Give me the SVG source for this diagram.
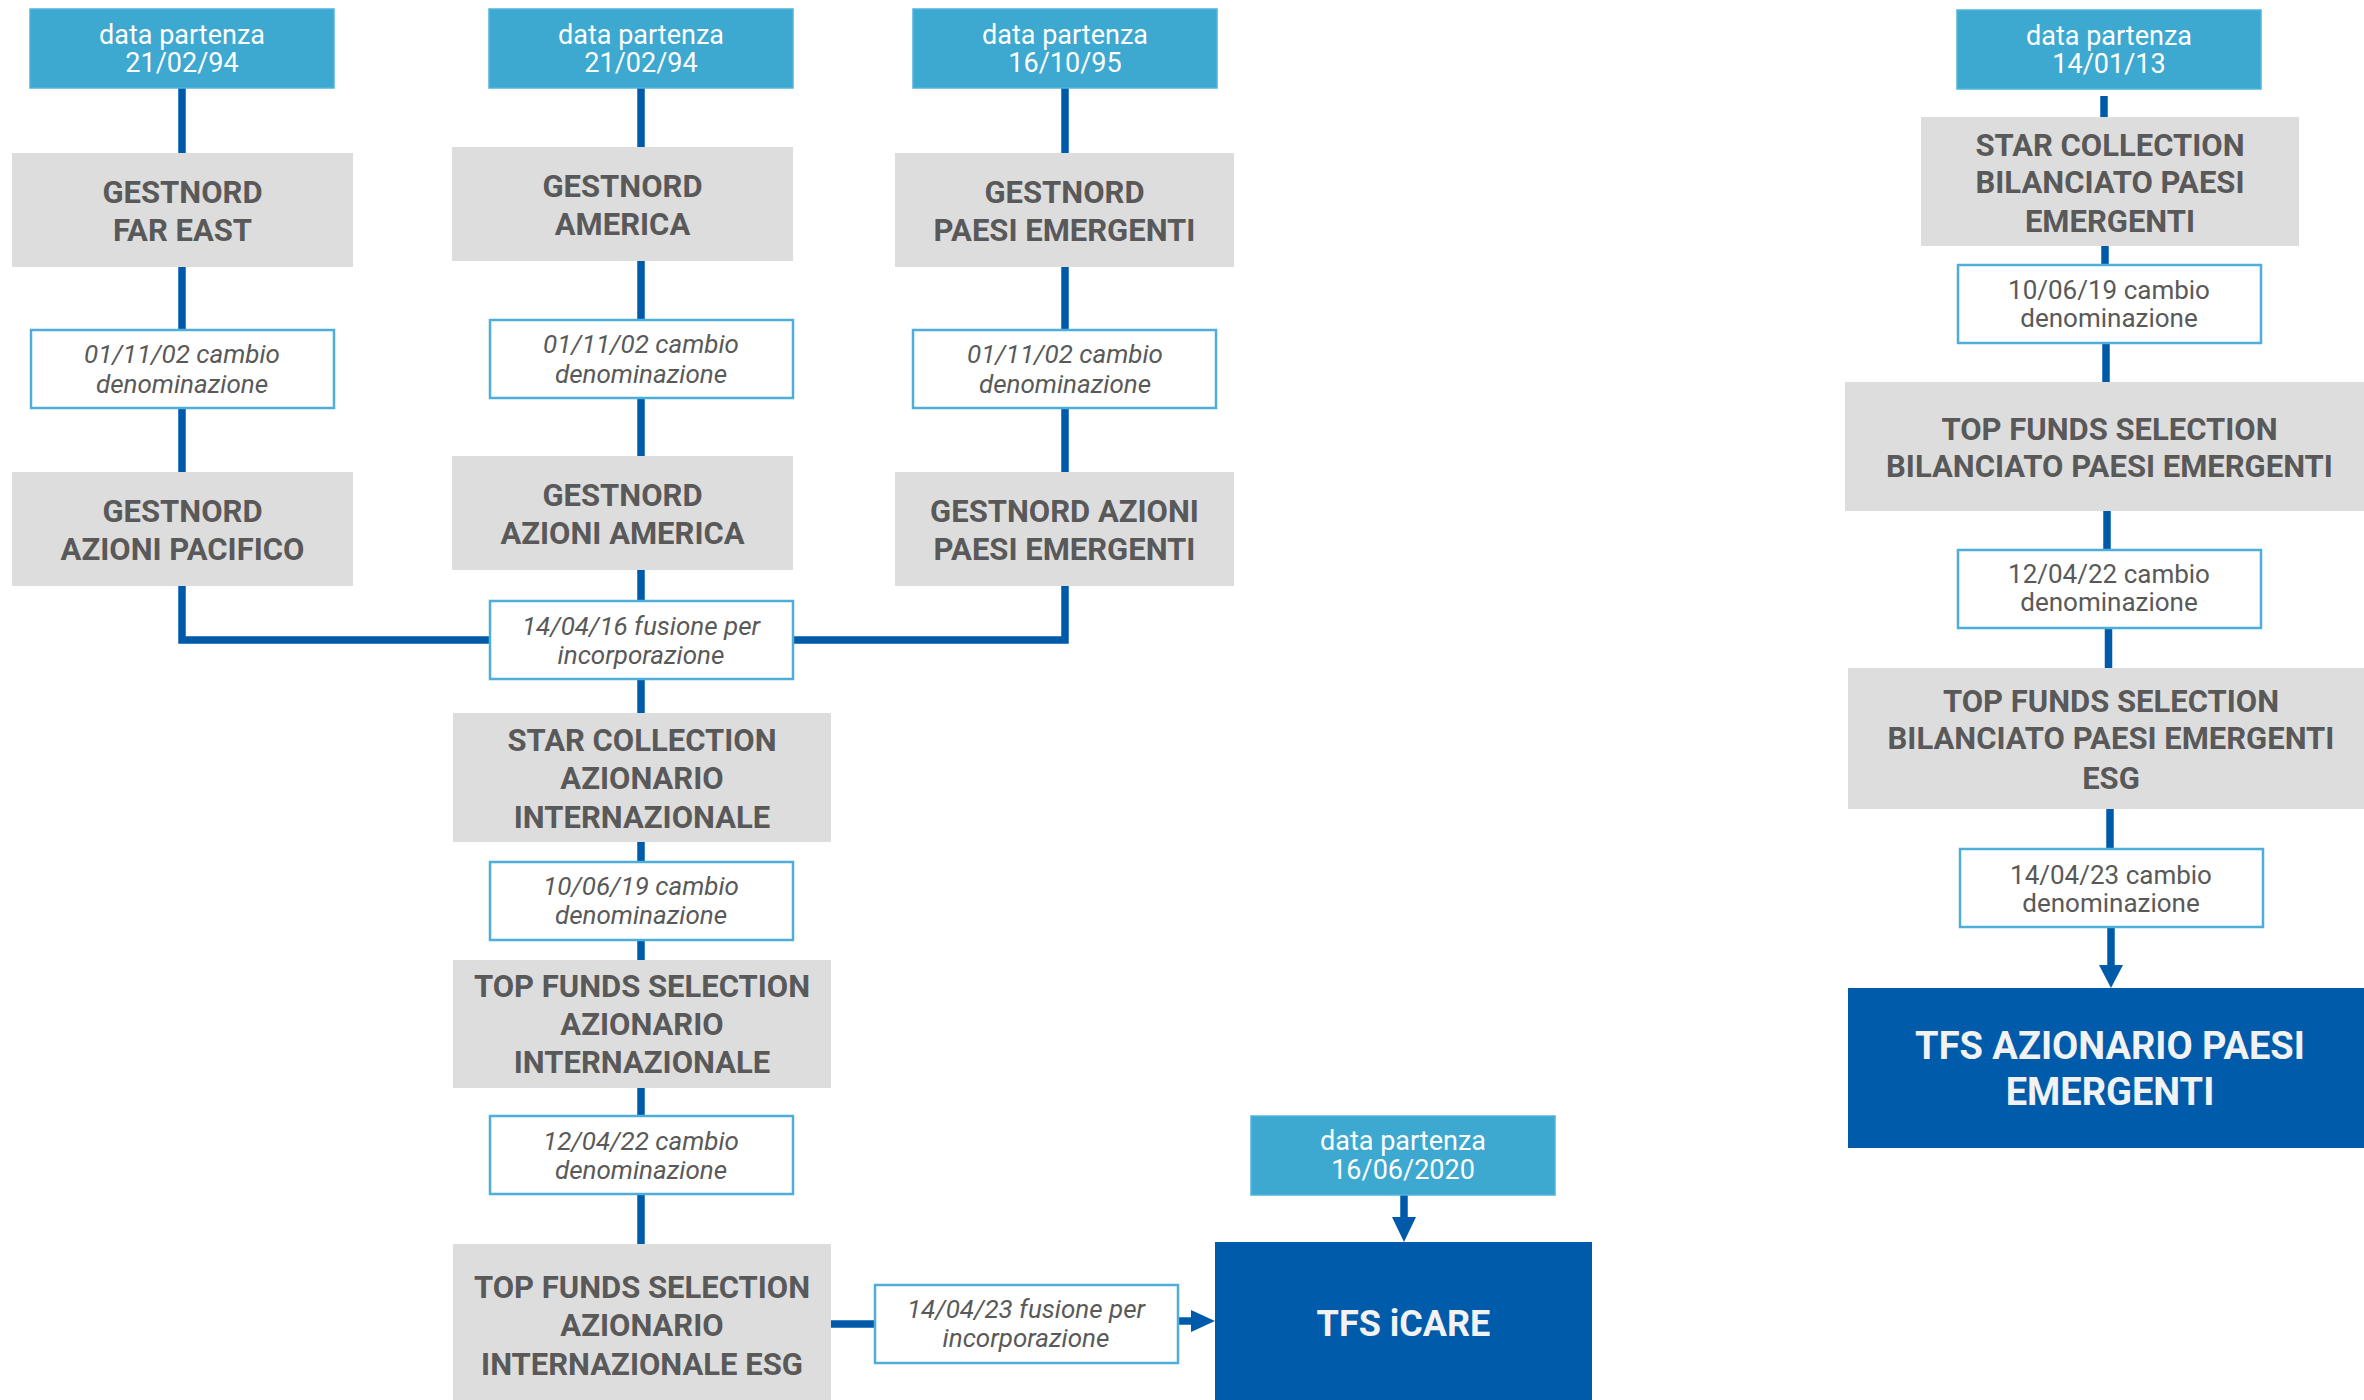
<svg xmlns="http://www.w3.org/2000/svg" width="2364" height="1400" viewBox="0 0 2364 1400">
<style>
.bg{fill:#FFFFFF}
.dp rect{fill:#3DA8D0;stroke:#4FB4DC;stroke-width:1.5}
.dp text{fill:#FFFFFF;font-family:Roboto,"Liberation Sans",sans-serif;font-size:27px;text-anchor:middle}
.g rect{fill:#DDDDDD}
.g text{fill:#595959;font-family:Roboto,"Liberation Sans",sans-serif;font-weight:bold;font-size:31px;text-anchor:middle}
.d rect{fill:#005BAA}
.d text{fill:#F2F2F2;font-family:Roboto,"Liberation Sans",sans-serif;font-weight:bold;font-size:38px;text-anchor:middle}
#n-icare text{font-size:36px}
.lb rect{fill:#FFFFFF;stroke:#4DAFD9;stroke-width:2.5}
.lb text{fill:#595959;font-family:Roboto,"Liberation Sans",sans-serif;font-size:26px;text-anchor:middle}
.lb.it text{font-style:italic}
.con path{fill:none;stroke:#005AAA;stroke-width:7.5;stroke-linejoin:miter}
.con polygon{fill:#005AAA}
</style>
<rect class="bg" x="0" y="0" width="2364" height="1400"/>

<g id="connectors" class="con">
<path d="M182 88V153M182 267V330M182 408V472M182 586V640H490"/>
<path d="M641 88V147M641 261V320M641 398V456M641 570V601M641 679V713M641 842V862M641 940V960M641 1088V1116M641 1194V1244"/>
<path d="M1065 88V153M1065 267V330M1065 408V472M1065 586V640H792"/>
<path d="M831 1324H875"/>
<path d="M1178 1321H1193"/>
<polygon points="1191,1310 1215,1321 1191,1332"/>
<path d="M1404 1195V1219"/>
<polygon points="1392,1217 1416,1217 1404,1242"/>
<path d="M2104 96V117M2105 246V265M2106 343V382M2107 511V550M2108.5 628V668M2110 809V849M2111 927V967"/>
<polygon points="2099,965 2123,965 2111,988"/>
</g>

<g id="dp1" class="dp"><rect x="30" y="9" width="304" height="79"/><text x="182" y="44">data partenza</text><text x="182" y="72">21/02/94</text></g>
<g id="dp2" class="dp"><rect x="489" y="9" width="304" height="79"/><text x="641" y="44">data partenza</text><text x="641" y="72">21/02/94</text></g>
<g id="dp3" class="dp"><rect x="913" y="9" width="304" height="79"/><text x="1065" y="44">data partenza</text><text x="1065" y="72">16/10/95</text></g>
<g id="dp4" class="dp"><rect x="1957" y="10" width="304" height="79"/><text x="2109" y="45">data partenza</text><text x="2109" y="73">14/01/13</text></g>
<g id="dp5" class="dp"><rect x="1251" y="1116" width="304" height="79"/><text x="1403" y="1150">data partenza</text><text x="1403" y="1179">16/06/2020</text></g>

<g id="n-fareast" class="g"><rect x="12" y="153" width="341" height="114"/><text x="182.5" y="203">GESTNORD</text><text x="182.5" y="241">FAR EAST</text></g>
<g id="n-pacifico" class="g"><rect x="12" y="472" width="341" height="114"/><text x="182.5" y="522">GESTNORD</text><text x="182.5" y="560">AZIONI PACIFICO</text></g>
<g id="n-america" class="g"><rect x="452" y="147" width="341" height="114"/><text x="622.5" y="197">GESTNORD</text><text x="622.5" y="235">AMERICA</text></g>
<g id="n-azamerica" class="g"><rect x="452" y="456" width="341" height="114"/><text x="622.5" y="506">GESTNORD</text><text x="622.5" y="544">AZIONI AMERICA</text></g>
<g id="n-paesi" class="g"><rect x="895" y="153" width="339" height="114"/><text x="1064.5" y="203">GESTNORD</text><text x="1064.5" y="241">PAESI EMERGENTI</text></g>
<g id="n-azpaesi" class="g"><rect x="895" y="472" width="339" height="114"/><text x="1064.5" y="522">GESTNORD AZIONI</text><text x="1064.5" y="560">PAESI EMERGENTI</text></g>
<g id="n-starint" class="g"><rect x="453" y="713" width="378" height="129"/><text x="642" y="751">STAR COLLECTION</text><text x="642" y="789">AZIONARIO</text><text x="642" y="828">INTERNAZIONALE</text></g>
<g id="n-tfsint" class="g"><rect x="453" y="960" width="378" height="128"/><text x="642" y="997">TOP FUNDS SELECTION</text><text x="642" y="1035">AZIONARIO</text><text x="642" y="1073">INTERNAZIONALE</text></g>
<g id="n-tfsintesg" class="g"><rect x="453" y="1244" width="378" height="160"/><text x="642" y="1298">TOP FUNDS SELECTION</text><text x="642" y="1336">AZIONARIO</text><text x="642" y="1375">INTERNAZIONALE ESG</text></g>
<g id="n-starbil" class="g"><rect x="1921" y="117" width="378" height="129"/><text x="2110" y="156">STAR COLLECTION</text><text x="2110" y="193">BILANCIATO PAESI</text><text x="2110" y="232">EMERGENTI</text></g>
<g id="n-tfsbil" class="g"><rect x="1845" y="382" width="530" height="129"/><text x="2109.5" y="440">TOP FUNDS SELECTION</text><text x="2109.5" y="477">BILANCIATO PAESI EMERGENTI</text></g>
<g id="n-tfsbilesg" class="g"><rect x="1848" y="668" width="527" height="141"/><text x="2111" y="712">TOP FUNDS SELECTION</text><text x="2111" y="749">BILANCIATO PAESI EMERGENTI</text><text x="2111" y="789">ESG</text></g>

<g id="n-icare" class="d"><rect x="1215" y="1242" width="377" height="165"/><text x="1403.5" y="1336">TFS iCARE</text></g>
<g id="n-tfsazpe" class="d"><rect x="1848" y="988" width="527" height="160"/><text x="2110" y="1059">TFS AZIONARIO PAESI</text><text x="2110" y="1105">EMERGENTI</text></g>

<g id="l-fe" class="lb it"><rect x="31" y="330" width="303" height="78"/><text x="182" y="363">01/11/02 cambio</text><text x="182" y="393">denominazione</text></g>
<g id="l-am" class="lb it"><rect x="490" y="320" width="303" height="78"/><text x="641" y="353">01/11/02 cambio</text><text x="641" y="383">denominazione</text></g>
<g id="l-pe" class="lb it"><rect x="913" y="330" width="303" height="78"/><text x="1065" y="363">01/11/02 cambio</text><text x="1065" y="393">denominazione</text></g>
<g id="l-fus16" class="lb it"><rect x="490" y="601" width="303" height="78"/><text x="641" y="635">14/04/16 fusione per</text><text x="641" y="664">incorporazione</text></g>
<g id="l-1019" class="lb it"><rect x="490" y="862" width="303" height="78"/><text x="641" y="895">10/06/19 cambio</text><text x="641" y="924">denominazione</text></g>
<g id="l-1222" class="lb it"><rect x="490" y="1116" width="303" height="78"/><text x="641" y="1150">12/04/22 cambio</text><text x="641" y="1179">denominazione</text></g>
<g id="l-fus23" class="lb it"><rect x="875" y="1285" width="303" height="78"/><text x="1026" y="1318">14/04/23 fusione per</text><text x="1026" y="1347">incorporazione</text></g>
<g id="r-1019" class="lb"><rect x="1958" y="265" width="303" height="78"/><text x="2109" y="299">10/06/19 cambio</text><text x="2109" y="327">denominazione</text></g>
<g id="r-1222" class="lb"><rect x="1958" y="550" width="303" height="78"/><text x="2109" y="583">12/04/22 cambio</text><text x="2109" y="611">denominazione</text></g>
<g id="r-1423" class="lb"><rect x="1960" y="849" width="303" height="78"/><text x="2111" y="884">14/04/23 cambio</text><text x="2111" y="912">denominazione</text></g>
</svg>
